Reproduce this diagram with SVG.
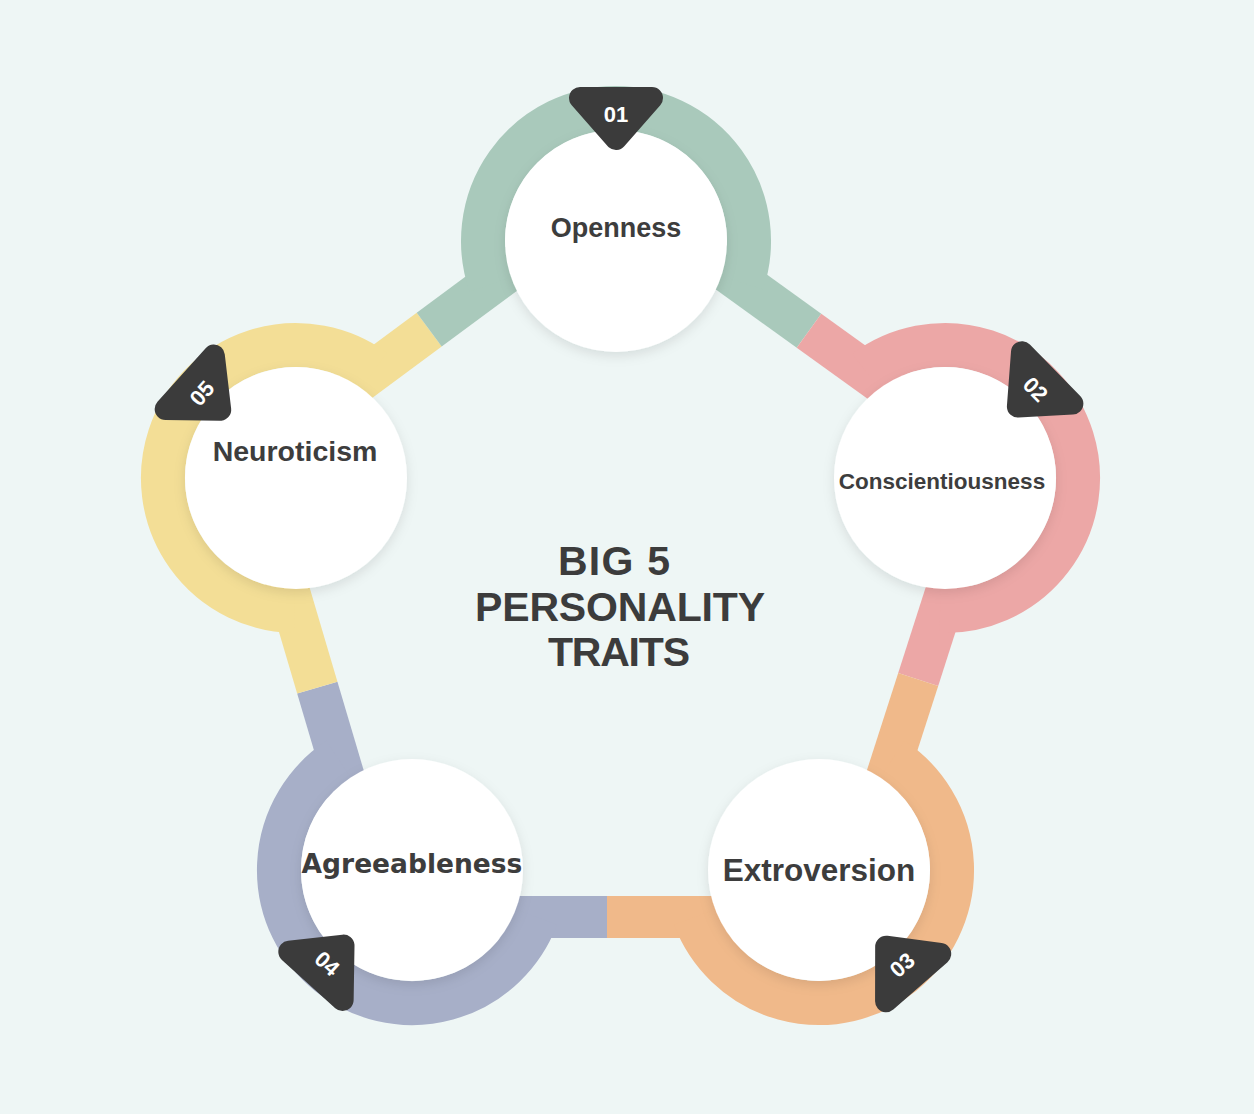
<svg xmlns="http://www.w3.org/2000/svg" width="1254" height="1114" viewBox="0 0 1254 1114">
<defs>
<style>
.band{fill:none;stroke-width:42;stroke-linecap:butt}
.ring{fill:none;stroke-width:44;stroke-linecap:butt}
.g{stroke:#A9C9BB}.p{stroke:#ECA7A6}.o{stroke:#F0B98A}.b{stroke:#A7AFC8}.y{stroke:#F3DE96}
.disc{fill:#FFFFFF;filter:url(#sh)}
.lbl{font-family:"Liberation Sans",Arial,sans-serif;font-weight:bold;fill:#3D3D3D;text-anchor:middle}
.tri{fill:#3B3B3B;stroke:#3B3B3B;stroke-width:22;stroke-linejoin:round}
.num{font-family:"Liberation Sans",Arial,sans-serif;font-weight:bold;font-size:22px;fill:#FFFFFF;text-anchor:middle}
.title{font-family:"Liberation Sans",Arial,sans-serif;font-weight:bold;font-size:41px;fill:#3C3C3C;text-anchor:middle}
</style>
<filter id="sh" x="-20%" y="-20%" width="140%" height="140%">
<feDropShadow dx="0" dy="4" stdDeviation="6" flood-color="#000000" flood-opacity="0.10"/>
</filter>
</defs>
<rect x="0" y="0" width="1254" height="1114" fill="#EEF6F5"/>

<g id="connectors">
<path class="band g" d="M639.4 208.5 L809 330.7"/>
<path class="band p" d="M809 330.7 L968.4 445.5"/>
<path class="band p" d="M979.3 489 L918.2 679.5"/>
<path class="band o" d="M918.2 679.5 L853.3 881"/>
<path class="band o" d="M819 917 L607 917"/>
<path class="band b" d="M607 917 L412 917"/>
<path class="band b" d="M374.6 881.1 L317.3 687.6"/>
<path class="band y" d="M317.3 687.6 L258.6 489.1"/>
<path class="band y" d="M272.2 445.9 L429.2 329.6"/>
<path class="band g" d="M429.2 329.6 L592.2 208.9"/>
</g>

<g id="node-openness">
<path class="ring g" d="M490.3 284.4 A133 133 0 1 1 742.3 282.7"/>
<circle class="disc" cx="616" cy="241" r="111"/>
<text class="lbl" x="616" y="237" font-size="27">Openness</text>
<g transform="translate(616 111) rotate(0)">
<polygon class="tri" points="-36,-13 36,-13 0,28"/>
<text class="num" x="0" y="11">01</text>
</g>
</g>

<g id="node-conscientiousness">
<path class="ring p" d="M865.5 371.4 A133 133 0 1 1 940.2 610.9"/>
<circle class="disc" cx="945" cy="478" r="111"/>
<text class="lbl" x="942" y="489" font-size="22.5">Conscientiousness</text>
<g transform="translate(1037.9 387) rotate(45.6)">
<polygon class="tri" points="-36,-13 36,-13 0,28"/>
<text class="num" x="0" y="11">02</text>
</g>
</g>

<g id="node-extroversion">
<path class="ring o" d="M892.4 759.1 A133 133 0 1 1 694.6 917"/>
<circle class="disc" cx="819" cy="870" r="111"/>
<text class="lbl" x="819" y="881" font-size="31.5">Extroversion</text>
<g transform="translate(904.6 967.8) rotate(138.8)">
<polygon class="tri" points="-36,-13 36,-13 0,28"/>
<text class="num" x="0" y="11" transform="rotate(180 0 3.5)">03</text>
</g>
</g>

<g id="node-agreeableness">
<path class="ring b" d="M536.4 917 A133 133 0 1 1 338.5 759.2"/>
<circle class="disc" cx="412" cy="870" r="111"/>
<text class="lbl" x="412" y="873" font-size="26.5" style="font-family:'DejaVu Sans',sans-serif">Agreeableness</text>
<g transform="translate(324.7 966.3) rotate(222.2)">
<polygon class="tri" points="-36,-13 36,-13 0,28"/>
<text class="num" x="0" y="11" transform="rotate(180 0 3.5)">04</text>
</g>
</g>

<g id="node-neuroticism">
<path class="ring y" d="M294.7 611 A133 133 0 1 1 374.1 370.4"/>
<circle class="disc" cx="296" cy="478" r="111"/>
<text class="lbl" x="295" y="461" font-size="28.5">Neuroticism</text>
<g transform="translate(199.4 391) rotate(-48)">
<polygon class="tri" points="-36,-13 36,-13 0,28"/>
<text class="num" x="0" y="11">05</text>
</g>
</g>

<g id="title">
<text class="title" x="614" y="575" textLength="112" lengthAdjust="spacing">BIG 5</text>
<text class="title" x="620" y="621" textLength="290" lengthAdjust="spacing">PERSONALITY</text>
<text class="title" x="619" y="666" textLength="142" lengthAdjust="spacing">TRAITS</text>
</g>
</svg>
